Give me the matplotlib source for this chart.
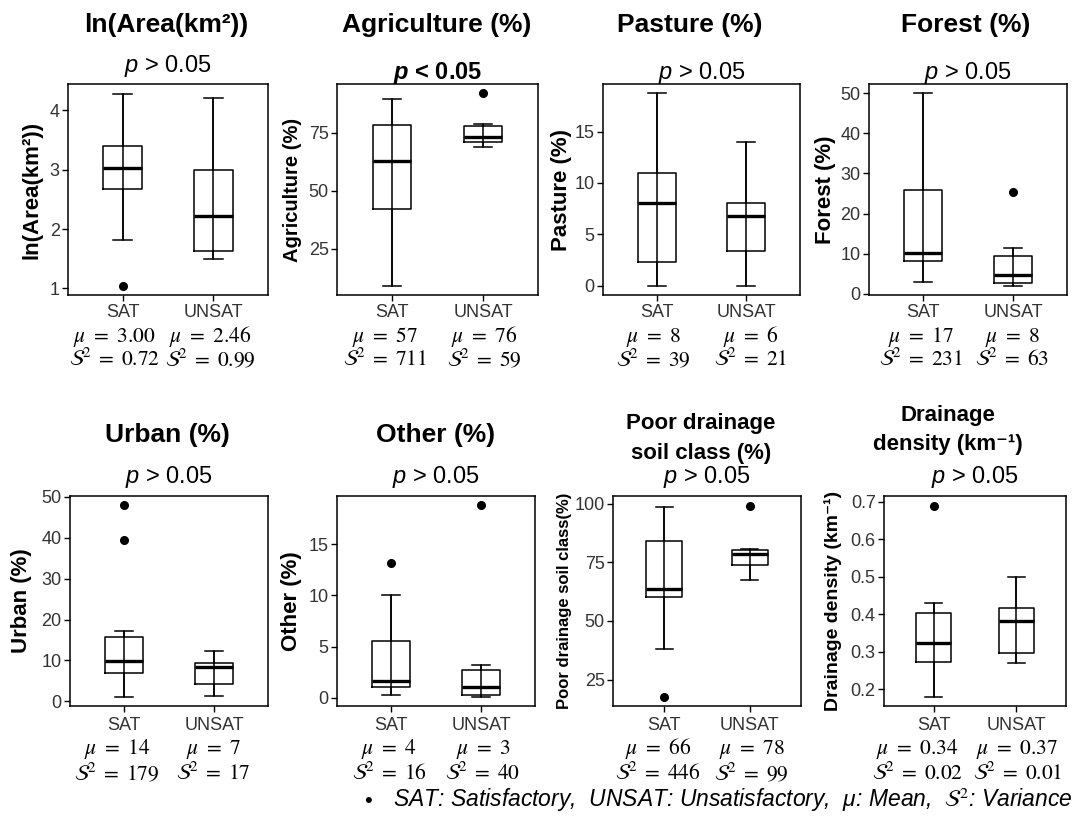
#!/usr/bin/env python
"""
plot.py
=======
SAT / UNSAT boxplots of catchment descriptors, 2 x 4 panels.
"""
import numpy as np
import matplotlib
matplotlib.use("Agg")
import matplotlib.pyplot as plt

W, H, DPI = 1074, 825, 100

plt.rcParams['font.family'] = ['Liberation Sans', 'DejaVu Sans']
plt.rcParams['mathtext.fontset'] = 'custom'
plt.rcParams['mathtext.rm'] = 'Liberation Sans'
plt.rcParams['mathtext.it'] = 'Liberation Sans:italic'
plt.rcParams['mathtext.bf'] = 'Liberation Sans:bold:italic'

# ---- data ------------------------------------------------------------
groups = ["SAT", "UNSAT"]

titles = [["ln(Area(km²))"], ["Agriculture (%)"], ["Pasture (%)"], ["Forest (%)"],
          ["Urban (%)"], ["Other (%)"], ["Poor drainage", "soil class (%)"],
          ["Drainage", "density (km⁻¹)"]]
ylabels = ["ln(Area(km²))", "Agriculture (%)", "Pasture (%)", "Forest (%)",
           "Urban (%)", "Other (%)", "Poor drainage soil class(%)",
           "Drainage density (km⁻¹)"]
p_labels = [r"$p$ > 0.05", r"$\mathbf{p}$ < 0.05", r"$p$ > 0.05", r"$p$ > 0.05",
            r"$p$ > 0.05", r"$p$ > 0.05", r"$p$ > 0.05", r"$p$ > 0.05"]
p_bold = [False, True, False, False, False, False, False, False]

# five-number summaries: whislo, q1, med, q3, whishi
sat_box = [(1.81, 2.68, 3.03, 3.39, 4.28),
           (9.2, 42.3, 62.8, 78.2, 89.3),
           (0.0, 2.34, 8.02, 10.97, 18.73),
           (3.0, 8.1, 10.2, 26.0, 50.0),
           (1.06, 7.0, 9.85, 15.8, 17.3),
           (0.23, 1.07, 1.62, 5.55, 10.0),
           (38.0, 60.2, 63.8, 84.2, 98.7),
           (0.181, 0.274, 0.325, 0.404, 0.429)]
sat_out = [[1.04], [], [], [], [39.4, 48.0], [13.2], [17.7], [0.689]]

unsat_box = [(1.49, 1.63, 2.22, 3.00, 4.21),
             (68.8, 71.0, 73.0, 77.9, 78.7),
             (0.0, 3.38, 6.79, 8.05, 13.96),
             (1.9, 2.6, 4.7, 9.4, 11.4),
             (1.2, 4.15, 8.5, 9.45, 12.3),
             (0.06, 0.23, 1.07, 2.66, 3.2),
             (67.5, 73.9, 78.5, 80.3, 80.6),
             (0.271, 0.296, 0.381, 0.416, 0.499)]
unsat_out = [[], [91.9], [], [25.3], [], [18.8], [99.2], []]

sat_mean = ["3.00", "57", "8", "17", "14", "4", "66", "0.34"]
sat_var = ["0.72", "711", "39", "231", "179", "16", "446", "0.02"]
unsat_mean = ["2.46", "76", "6", "8", "7", "3", "78", "0.37"]
unsat_var = ["0.99", "59", "21", "63", "17", "40", "99", "0.01"]

yticks = [[1, 2, 3, 4], [25, 50, 75], [0, 5, 10, 15], [0, 10, 20, 30, 40, 50],
          [0, 10, 20, 30, 40, 50], [0, 5, 10, 15], [25, 50, 75, 100],
          [0.2, 0.3, 0.4, 0.5, 0.6, 0.7]]
ytick_labels = [[str(t) for t in tt] for tt in yticks]

footnote = r"SAT: Satisfactory,  UNSAT: Unsatisfactory,  μ: Mean,  $\mathcal{S}^2$: Variance"

# ---- layout (pixels) --------------------------------------------------
ax_px = [(68, 84, 268, 295), (337, 84, 538, 295), (603, 84, 800, 295), (869, 84, 1067, 295),
         (70, 496, 268, 706), (337, 496, 535, 706), (613, 496, 801, 706), (884, 496, 1066, 706)]
ylims = [(0.89, 4.44), (5.2, 95.9), (-0.91, 19.64), (-0.3, 52.3),
         (-1.14, 50.2), (-0.81, 19.7), (13.7, 103.3), (0.156, 0.715)]
title_size = [19, 19, 19, 19, 19, 19, 16, 16]
title_dx = [-2, -1, -12, -2, -2, 0, -6, -27]
title_up = [[52], [52], [52], [52], [54], [54], [67, 37], [75, 46]]
p_up = [12, 5, 5, 5, 13, 13, 13, 13]
ylab_size = [16, 14.5, 16, 16, 16, 16, 12, 14]
ylab_dx = [-36, -44, -42, -44, -48, -45, -49, -51]
below = [(22, 47, 71)] * 4 + [(24, 48, 74)] * 4
sat_dx = [-8, -7, -3, -2, -7, -2, -6, -16]
unsat_dx = [-3, 1, 4, -1, -1, 2, 2, 1]

TXT = '#333333'
LW = 1.1

fig = plt.figure(figsize=(W / DPI, H / DPI), dpi=DPI)

for i in range(8):
    l, t, r, b = ax_px[i]
    ax = fig.add_axes([l / W, 1 - b / H, (r - l) / W, (b - t) / H])

    stats = []
    for box, out in ((sat_box[i], sat_out[i]), (unsat_box[i], unsat_out[i])):
        lo, q1, med, q3, hi = box
        stats.append(dict(whislo=lo, q1=q1, med=med, q3=q3, whishi=hi, fliers=out))

    # errorbar style whisker drawn through the box
    ax.vlines([1, 2], [s['whislo'] for s in stats], [s['whishi'] for s in stats],
              color='black', lw=LW, zorder=2)
    ax.bxp(stats, positions=[1, 2], widths=0.42, capwidths=0.2, manage_ticks=False,
           boxprops=dict(color='black', lw=LW),
           whiskerprops=dict(color='black', lw=LW),
           capprops=dict(color='black', lw=LW),
           medianprops=dict(color='black', lw=2.4),
           flierprops=dict(marker='o', markerfacecolor='black', markeredgecolor='black',
                           markersize=5.5))

    ax.set_xlim(0.4, 2.6)
    ax.set_ylim(*ylims[i])
    ax.set_yticks(yticks[i])
    ax.set_yticklabels(ytick_labels[i])
    ax.set_xticks([1, 2])
    ax.set_xticklabels([])
    ax.tick_params(axis='both', direction='out', length=4, width=1.0, color='black',
                   labelsize=13, labelcolor=TXT, pad=2)
    for s in ax.spines.values():
        s.set_linewidth(1.1)

    # titles
    for k, line in enumerate(titles[i]):
        ax.annotate(line, xy=(0.5, 1.0), xycoords='axes fraction',
                    xytext=(title_dx[i], title_up[i][k]), textcoords='offset pixels',
                    ha='center', va='baseline', fontsize=title_size[i],
                    fontweight='bold', annotation_clip=False)
    ax.annotate(p_labels[i], xy=(0.5, 1.0), xycoords='axes fraction',
                xytext=(0, p_up[i]), textcoords='offset pixels',
                ha='center', va='baseline', fontsize=17,
                fontweight='bold' if p_bold[i] else 'normal',
                math_fontfamily='custom', annotation_clip=False)

    # y label
    ax.annotate(ylabels[i], xy=(0.0, 0.5), xycoords='axes fraction',
                xytext=(ylab_dx[i], 0), textcoords='offset pixels',
                ha='center', va='center', rotation=90, fontsize=ylab_size[i],
                fontweight='bold', annotation_clip=False)

    # group labels, mean and variance under each box
    d_lab, d_mu, d_var = below[i]
    rows = [(groups[0], sat_mean[i], sat_var[i], sat_dx[i]),
            (groups[1], unsat_mean[i], unsat_var[i], unsat_dx[i])]
    for j, (g, mu, var, dx) in enumerate(rows):
        x = j + 1
        ax.annotate(g, xy=(x, 0), xycoords=('data', 'axes fraction'),
                    xytext=(0, -d_lab), textcoords='offset pixels',
                    ha='center', va='baseline', fontsize=13, color=TXT,
                    annotation_clip=False)
        ax.annotate(r"$\mu\ =\ %s$" % mu, xy=(x, 0),
                    xycoords=('data', 'axes fraction'),
                    xytext=(dx, -d_mu), textcoords='offset pixels',
                    ha='center', va='baseline', fontsize=15.5,
                    math_fontfamily='stix', annotation_clip=False)
        ax.annotate(r"$\mathcal{S}^2\;=\;%s$" % var, xy=(x, 0),
                    xycoords=('data', 'axes fraction'),
                    xytext=(dx, -d_var), textcoords='offset pixels',
                    ha='center', va='baseline', fontsize=15.5,
                    math_fontfamily='stix', annotation_clip=False)

fig.text(368 / W, 1 - 807 / H, "•", ha='center', va='baseline', fontsize=16)
fig.text(393 / W, 1 - 807 / H, footnote, ha='left', va='baseline', fontsize=16.5,
         fontstyle='italic', math_fontfamily='stix')

fig.savefig("out.png", dpi=DPI)
